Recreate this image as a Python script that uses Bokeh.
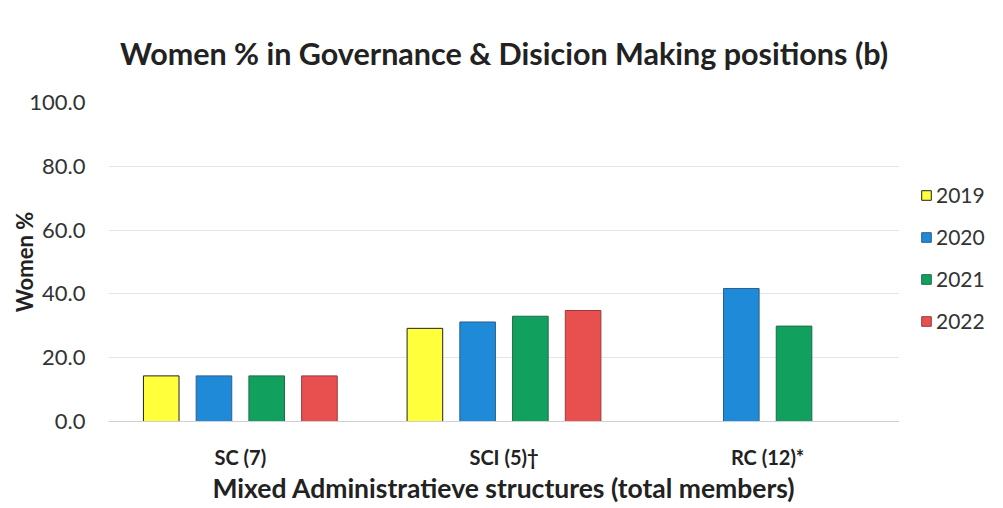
from bokeh.plotting import figure
from bokeh.models import FactorRange, ColumnDataSource, Legend, LegendItem, NumeralTickFormatter
from bokeh.transform import dodge
from bokeh.layouts import row
from bokeh.embed import file_html
from bokeh.resources import INLINE

categories = ["SC (7)", "SCI (5)\u2020", "RC (12)*"]
years = ["2019", "2020", "2021", "2022"]
v2019 = [14.3, 29.2, float("nan")]
v2020 = [14.3, 31.2, 41.7]
v2021 = [14.3, 33.0, 29.9]
v2022 = [14.3, 34.8, float("nan")]
y_ticks = [0, 20, 40, 60, 80, 100]

colors = ["#FFFF3C", "#1F8AD8", "#12A05E", "#E8504F"]
edges = ["#222222", "#2a5f8f", "#1f6b46", "#9a3a3a"]
offsets = [-0.3, -0.1, 0.1, 0.3]

FONT = "Lato"

src = ColumnDataSource(dict(cat=categories, y2019=v2019, y2020=v2020, y2021=v2021, y2022=v2022))

p = figure(x_range=FactorRange(*categories, range_padding=0), y_range=(0, 100),
           width=899, height=506, output_backend="svg", toolbar_location=None,
           min_border_left=108, min_border_right=0, min_border_top=101, min_border_bottom=81)

for yr, col, ec, off in zip(years, colors, edges, offsets):
    p.vbar(x=dodge("cat", off, range=p.x_range), top="y" + yr, width=0.135, source=src,
           fill_color=col, line_color=ec, line_width=1)

p.title.text = "Women % in Governance & Disicion Making positions (b)"
p.title.text_font = FONT
p.title.text_font_size = "30.5px"
p.title.text_font_style = "bold"
p.title.align = "center"
p.title.text_color = "#222222"
p.title.offset = 0
p.title.standoff = 64

p.yaxis.ticker = y_ticks
p.yaxis.formatter = NumeralTickFormatter(format="0.0")
p.yaxis.major_label_text_font = FONT
p.yaxis.major_label_text_font_size = "22px"
p.yaxis.major_label_text_color = "#333333"
p.yaxis.axis_line_color = None
p.yaxis.major_tick_line_color = None
p.yaxis.minor_tick_line_color = None
p.yaxis.major_tick_out = 0
p.yaxis.major_tick_in = 0
p.yaxis.major_label_standoff = 23
p.yaxis.axis_label = "Women %"
p.yaxis.axis_label_text_font = FONT
p.yaxis.axis_label_text_font_size = "22px"
p.yaxis.axis_label_text_font_style = "bold"
p.yaxis.axis_label_text_color = "#222222"
p.yaxis.axis_label_standoff = -12

p.xaxis.major_label_text_font = FONT
p.xaxis.major_label_text_font_size = "20px"
p.xaxis.major_label_text_font_style = "bold"
p.xaxis.major_label_text_color = "#222222"
p.xaxis.axis_line_color = "#d0d0d0"
p.xaxis.major_tick_line_color = None
p.xaxis.minor_tick_line_color = None
p.xaxis.major_tick_out = 0
p.xaxis.major_tick_in = 0
p.xaxis.major_label_standoff = 23
p.xaxis.axis_label = "Mixed Administratieve structures (total members)"
p.xaxis.axis_label_text_font = FONT
p.xaxis.axis_label_text_font_size = "26.5px"
p.xaxis.axis_label_text_font_style = "bold"
p.xaxis.axis_label_text_color = "#222222"
p.xaxis.axis_label_standoff = 0

p.xgrid.grid_line_color = None
p.ygrid.grid_line_color = "#e4e4e4"
p.outline_line_color = None

# legend panel
p2 = figure(width=101, height=506, output_backend="svg", toolbar_location=None,
            x_range=(0, 1), y_range=(0, 1), x_axis_type=None, y_axis_type=None,
            min_border=0, min_border_left=0, min_border_right=0, min_border_top=0, min_border_bottom=0)
p2.grid.grid_line_color = None
p2.outline_line_color = None
leg_renderers = []
for yr, col, ec in zip(years, colors, edges):
    leg_renderers.append(p2.vbar(x=[10], top=[1], width=0.1, fill_color=col, line_color=ec, line_width=1))

legend = Legend(items=[LegendItem(label=yr, renderers=[r]) for yr, r in zip(years, leg_renderers)],
                location=(21, 88), border_line_color=None, background_fill_alpha=0,
                label_text_font=FONT, label_text_font_size="21px", label_text_color="#333333",
                glyph_width=12, glyph_height=12, spacing=17, label_standoff=4, padding=0, margin=0,
                label_height=24)
p2.add_layout(legend, "center")

open("out.html", "w").write(file_html(row(p, p2), INLINE))
